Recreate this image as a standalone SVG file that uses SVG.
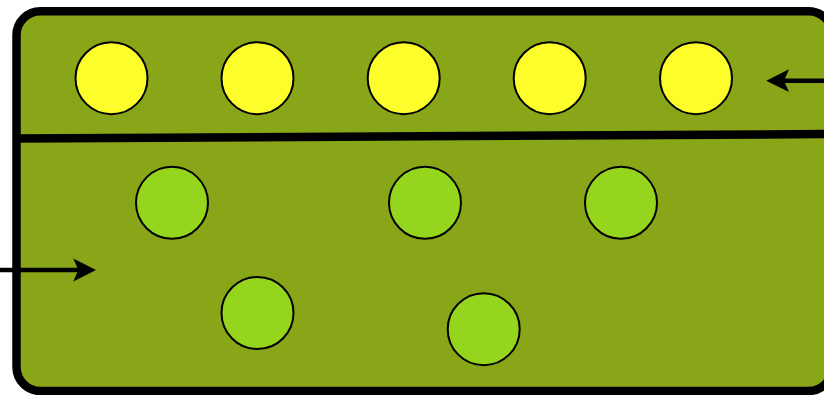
<svg xmlns="http://www.w3.org/2000/svg" width="824" height="395" viewBox="0 0 824 395">
  <style>
    .frame { fill: #88a617; stroke: #000; stroke-width: 8.5; }
    .divider { stroke: #000; stroke-width: 8.5; fill: none; }
    .yel { fill: #fcfd2a; stroke: #000; stroke-width: 2; }
    .grn { fill: #96d51e; stroke: #000; stroke-width: 2; }
    .conn { stroke: #000; stroke-width: 4.5; fill: none; }
    .head { fill: #000; stroke: none; }
  </style>
  <rect class="frame" x="16.5" y="11.3" width="816" height="379.7" rx="24" ry="24"/>
  <line class="divider" x1="16.5" y1="138.5" x2="833" y2="134"/>
  <g id="y1"><circle class="yel" cx="111.5" cy="78.2" r="36"/></g>
  <g id="y2"><circle class="yel" cx="257.5" cy="78.2" r="36"/></g>
  <g id="y3"><circle class="yel" cx="403.7" cy="78.2" r="36"/></g>
  <g id="y4"><circle class="yel" cx="549.7" cy="78.2" r="36"/></g>
  <g id="y5"><circle class="yel" cx="696" cy="78.2" r="36"/></g>
  <g id="g1"><circle class="grn" cx="172" cy="202.8" r="36"/></g>
  <g id="g2"><circle class="grn" cx="425" cy="202.8" r="36"/></g>
  <g id="g3"><circle class="grn" cx="621" cy="202.8" r="36"/></g>
  <g id="g4"><circle class="grn" cx="257.5" cy="313" r="36"/></g>
  <g id="g5"><circle class="grn" cx="483.7" cy="329.2" r="36"/></g>
  <g id="connectors">
    <line class="conn" x1="826" y1="80.7" x2="782" y2="80.7"/>
    <path class="head" d="M766.3 80.7 L789 69.3 L784 80.7 L789 91.9 Z"/>
    <line class="conn" x1="-2" y1="270" x2="80" y2="270"/>
    <path class="head" d="M96 270 L73.3 258.4 L78.3 270 L73.3 281.6 Z"/>
  </g>
</svg>
